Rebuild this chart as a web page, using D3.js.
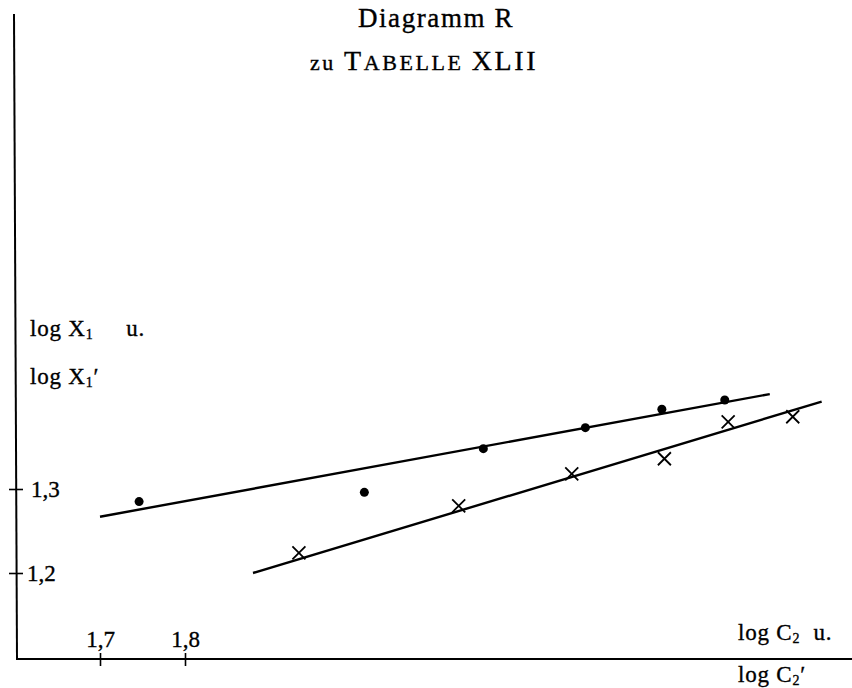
<!DOCTYPE html>
<html lang="de">
<head>
	<meta charset="utf-8">
	<title>Diagramm R</title>
	<style>
		body { margin: 0; background: #fff; }
		text { font-family: "Liberation Serif", "DejaVu Serif", serif; fill: #000; stroke: #000; stroke-width: 0.35px; white-space: pre; }
	</style>
	<script type="text/javascript" src="https://d3js.org/d3.v7.min.js"></script>
</head>
<body>
	<script type="text/javascript">
            // log C2 / log X1 values
            var dotsX = [1.746, 2.011, 2.151, 2.271, 2.361, 2.435];
            var dotsY = [1.285, 1.296, 1.348, 1.373, 1.395, 1.406];
            var crossX = [1.934, 2.122, 2.255, 2.364, 2.439, 2.515];
            var crossY = [1.224, 1.280, 1.318, 1.336, 1.380, 1.386];
            // the two drawn straight lines (start, end)
            var lineDotsX = [1.700, 2.488];
            var lineDotsY = [1.267, 1.413];
            var lineCrossX = [1.880, 2.549];
            var lineCrossY = [1.200, 1.404];
            var xTicks = [1.7, 1.8];
            var yTicks = [1.2, 1.3];

            var w = 852;
            var h = 688;
            var axisX = 16;
            var axisY = 659;

            var xScale = d3.scaleLinear()
                .domain([1.7, 1.8])
                .range([100, 185]);
            var yScale = d3.scaleLinear()
                .domain([1.2, 1.3])
                .range([573, 489]);

            var svg = d3.select("body")
                .append("svg")
                .attr("width", w)
                .attr("height", h);

            var fmt = d => d3.format(".1f")(d).replace(".", ",");

            // title
            svg.append("text")
                .attr("x", 436)
                .attr("y", 27)
                .attr("text-anchor", "middle")
                .attr("font-size", "27px")
                .attr("letter-spacing", "1.6px")
                .text("Diagramm R");
            var t2 = svg.append("text")
                .attr("x", 424)
                .attr("y", 70)
                .attr("text-anchor", "middle")
                .attr("font-size", "28px")
                .attr("letter-spacing", "2.6px");
            t2.append("tspan").attr("font-size", "22px").text("zu ");
            t2.append("tspan").text("T");
            t2.append("tspan").attr("font-size", "22px").text("ABELLE ");
            t2.append("tspan").text("XLII");

            // axis lines
            svg.append("line")
                .attr("x1", axisX - 2).attr("y1", 14)
                .attr("x2", axisX + 1).attr("y2", axisY)
                .attr("stroke", "#000")
                .attr("stroke-width", 2);
            svg.append("line")
                .attr("x1", axisX).attr("y1", axisY)
                .attr("x2", w).attr("y2", axisY)
                .attr("stroke", "#000")
                .attr("stroke-width", 2);

            var xAxis = d3.axisBottom(xScale)
                .tickValues(xTicks)
                .tickSizeInner(7)
                .tickSizeOuter(0)
                .tickFormat(fmt);
            var gx = svg.append("g")
                .attr("transform", "translate(0," + axisY + ")")
                .call(xAxis);
            gx.select(".domain").remove();
            gx.selectAll(".tick line")
                .attr("y1", -6)
                .attr("stroke", "#000")
                .attr("stroke-width", 1.6);
            gx.selectAll(".tick text")
                .attr("y", -12)
                .attr("dy", 0)
                .attr("font-size", "23px")
                .attr("font-family", "Liberation Serif")
                .attr("fill", "#000");

            var yAxis = d3.axisLeft(yScale)
                .tickValues(yTicks)
                .tickSizeInner(7)
                .tickSizeOuter(0)
                .tickFormat(fmt);
            var gy = svg.append("g")
                .attr("transform", "translate(" + axisX + ",0)")
                .call(yAxis);
            gy.select(".domain").remove();
            gy.selectAll(".tick line")
                .attr("x1", 7)
                .attr("stroke", "#000")
                .attr("stroke-width", 1.6);
            gy.selectAll(".tick text")
                .attr("x", (d, i) => i == 0 ? 11 : 15)
                .attr("dy", "0.32em")
                .attr("text-anchor", "start")
                .attr("font-size", "23px")
                .attr("font-family", "Liberation Serif")
                .attr("fill", "#000");

            // axis names
            function label(x, y, sym, sub, tail) {
                var t = svg.append("text")
                    .attr("x", x)
                    .attr("y", y)
                    .attr("font-size", "23px")
                    .attr("letter-spacing", "0.8px");
                t.append("tspan").text("log " + sym);
                t.append("tspan").attr("font-size", "14px").attr("dy", 3).text(sub);
                t.append("tspan").attr("dy", -3).text(tail);
            }
            label(30, 336, "X", "1", "     u.");
            label(30, 384, "X", "1", "\u2032");
            label(738, 640, "C", "2", "  u.");
            label(738, 682, "C", "2", "\u2032");

            // fitted lines
            var line = d3.line()
                .x(d => xScale(d[0]))
                .y(d => yScale(d[1]));
            svg.append("path")
                .datum(d3.zip(lineDotsX, lineDotsY))
                .attr("d", line)
                .attr("fill", "none")
                .attr("stroke", "#000")
                .attr("stroke-width", 2.4);
            svg.append("path")
                .datum(d3.zip(lineCrossX, lineCrossY))
                .attr("d", line)
                .attr("fill", "none")
                .attr("stroke", "#000")
                .attr("stroke-width", 2.4);

            // dots
            svg.selectAll("circle")
                .data(d3.zip(dotsX, dotsY))
                .enter()
                .append("circle")
                .attr("cx", d => xScale(d[0]))
                .attr("cy", d => yScale(d[1]))
                .attr("r", 4.5)
                .attr("fill", "#000");

            // crosses
            var cs = 6.5;
            svg.selectAll("path.cross")
                .data(d3.zip(crossX, crossY))
                .enter()
                .append("path")
                .attr("class", "cross")
                .attr("d", d => {
                    var cx = xScale(d[0]), cy = yScale(d[1]);
                    return "M" + (cx - cs) + "," + (cy - cs) + "L" + (cx + cs) + "," + (cy + cs) +
                        "M" + (cx + cs) + "," + (cy - cs) + "L" + (cx - cs) + "," + (cy + cs);
                })
                .attr("fill", "none")
                .attr("stroke", "#000")
                .attr("stroke-width", 1.8);
        </script>
</body>
</html>
